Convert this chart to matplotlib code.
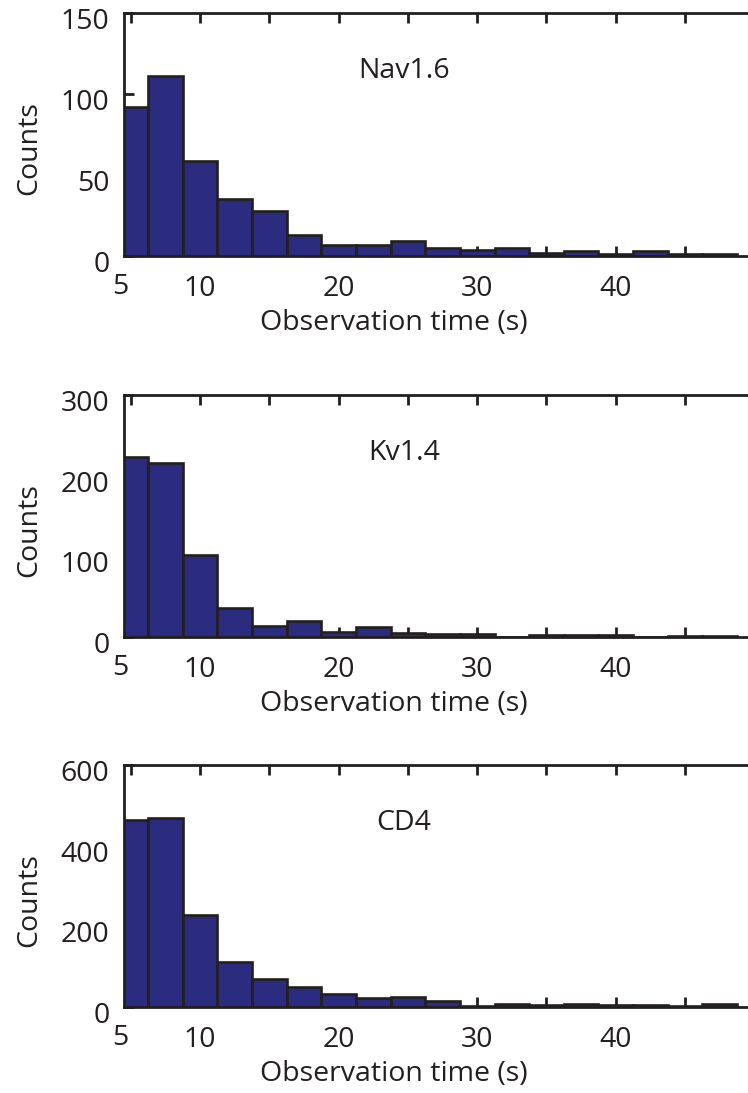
import matplotlib
matplotlib.use("Agg")
import matplotlib.pyplot as plt
import matplotlib.transforms as mtransforms
import numpy as np

plt.rcParams['font.family'] = ['Open Sans', 'DejaVu Sans']

# histogram bin centres (s), MATLAB hist style
bin_centers = [5, 7.5, 10, 12.5, 15, 17.5, 20, 22.5, 25, 27.5,
               30, 32.5, 35, 37.5, 40, 42.5, 45, 47.5]

nav16_counts = [92, 111, 59, 35, 28, 13, 7, 7, 9, 5,
                4, 5, 2, 3, 1, 3, 1, 1]
kv14_counts = [223, 215, 102, 36, 13, 19, 6, 12, 5, 3,
               3, 0, 2, 2, 2, 0, 1, 1]
cd4_counts = [463, 468, 228, 112, 69, 49, 31, 21, 25, 15,
              2, 7, 3, 7, 4, 5, 2, 6]

channels = ['Nav1.6', 'Kv1.4', 'CD4']
all_counts = [nav16_counts, kv14_counts, cd4_counts]
y_max = [150, 300, 600]
y_ticks = [[0, 50, 100, 150], [0, 100, 200, 300], [0, 200, 400, 600]]
x_ticks = [5, 10, 15, 20, 25, 30, 35, 40, 45]
x_ticklabels = ['', '10', '', '20', '', '30', '', '40', '']

bar_color = '#2b2b7f'
ink = '#231f20'
fs = 20.5

W, H = 748, 1093
fig = plt.figure(figsize=(W / 100, H / 100), dpi=100)
ylab_shift = mtransforms.ScaledTranslation(0, -5.5 / 100, fig.dpi_scale_trans)

# axes boxes in pixels: (top, bottom)
boxes = [(13.3, 256.0), (395.0, 636.7), (765.0, 1006.7)]
left_px = 124

for (top, bot), name, counts, ymax, yt in zip(boxes, channels, all_counts, y_max, y_ticks):
    ax = fig.add_axes([left_px / W, 1 - bot / H, (W - left_px) / W + 0.01, (bot - top) / H])
    ax.bar(bin_centers, counts, width=2.5, color=bar_color,
           edgecolor=ink, linewidth=1.9, zorder=2)
    ax.set_xlim(4.5, 49.55 + 0.01 * W / 13.85)
    ax.set_ylim(0, ymax)
    ax.set_yticks(yt)
    ax.set_xticks(x_ticks)
    ax.set_xticklabels(x_ticklabels)
    for s in ['left', 'top', 'bottom']:
        ax.spines[s].set_linewidth(2.0)
        ax.spines[s].set_color(ink)
        ax.spines[s].set_zorder(3)
    ax.spines['right'].set_visible(False)
    ax.tick_params(axis='x', direction='in', top=True, bottom=True, length=7,
                   width=2.0, color=ink, labelsize=fs, pad=14, labelcolor=ink)
    ax.tick_params(axis='y', direction='in', left=True, right=False, length=7,
                   width=2.0, color=ink, labelsize=fs, pad=10.5, labelcolor=ink)
    for lab in ax.get_yticklabels():
        lab.set_transform(lab.get_transform() + ylab_shift)
    # the "5" label sits at the left edge of the axis
    ax.text(4.2, -31 / (bot - top), '5', transform=ax.get_xaxis_transform(),
            ha='center', va='center', fontsize=fs, color=ink)
    ax.set_xlabel('Observation time (s)', fontsize=fs, color=ink, va='center')
    ax.xaxis.set_label_coords(0.428, -67 / (bot - top))
    ax.set_ylabel('Counts', fontsize=fs, color=ink)
    ax.yaxis.set_label_coords(-0.128, 0.443)
    ax.text(0.443, 0.762, name, transform=ax.transAxes, ha='center', va='center',
            fontsize=fs, color=ink)

fig.savefig('out.png', dpi=100)
